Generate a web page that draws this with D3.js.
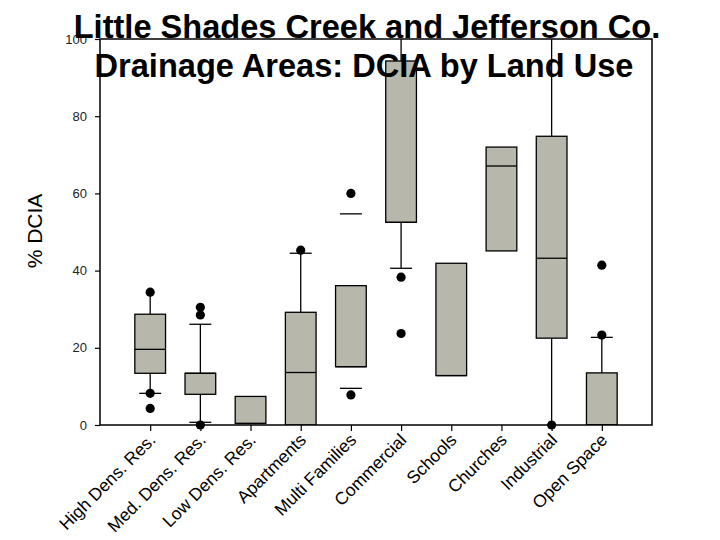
<!DOCTYPE html>
<html>
<head>
<meta charset="utf-8">
<script src="https://cdn.jsdelivr.net/npm/d3@7"></script>
<style>
  body { margin: 0; background: #fff; }
  svg { display: block; font-family: "Liberation Sans", Arial, sans-serif; }
</style>
</head>
<body>
<script>
// box plot values (% DCIA)
var categories = ["High Dens. Res.", "Med. Dens. Res.", "Low Dens. Res.", "Apartments",
    "Multi Families", "Commercial", "Schools", "Churches", "Industrial", "Open Space"];
var q1     = [13.4, 7.95, 0.4, 0, 15.1, 52.5, 12.8, 45.1, 22.5, 0];
var median = [19.6, 13.4, 0.4, 13.6, 15.1, 52.5, 12.8, 67.1, 43.2, 0];
var q3     = [28.7, 13.4, 7.4, 29.2, 36.1, 94.3, 41.9, 72.0, 74.8, 13.5];
// whisker stems (null = no stem drawn) and caps (null = no cap)
var lowWhisker  = [8.2, 0.7, null, null, null, 40.6, null, null, 0, null];
var highWhisker = [34.4, 26.1, null, 44.5, null, 100, null, null, 100, 22.7];
var lowCap      = [8.2, 0.7, null, null, 9.5, 40.6, null, null, null, null];
var highCap     = [null, 26.1, null, 44.5, 54.7, null, null, null, null, 22.7];
var outliers = [
    [34.4, 8.2, 4.3],
    [30.5, 28.5, 0],
    [],
    [45.3],
    [60.0, 7.8],
    [38.3, 23.7],
    [],
    [],
    [0],
    [41.4, 23.3]
];
var yTicks = [0, 20, 40, 60, 80, 100];

var width = 720, height = 540;
var plotL = 100, plotR = 652, plotT = 39, plotB = 425;
var boxW = 30.7, capW = 22;
var boxFill = "#b7b7ab";

var svg = d3.select("body").append("svg").attr("width", width).attr("height", height);

var x = d3.scalePoint().domain(categories).range([plotL, plotR]).padding(1);
var y = d3.scaleLinear().domain([0, 100]).range([plotB, plotT]);

svg.append("clipPath").attr("id", "plot")
    .append("rect").attr("x", plotL).attr("y", plotT)
    .attr("width", plotR - plotL).attr("height", plotB - plotT);

var g = svg.append("g").attr("clip-path", "url(#plot)");

categories.forEach(function (c, i) {
    var cx = x(c);

    // stems
    if (lowWhisker[i] !== null) {
        g.append("line").attr("x1", cx).attr("x2", cx)
            .attr("y1", y(q1[i])).attr("y2", y(lowWhisker[i]))
            .attr("stroke", "#000").attr("stroke-width", 1.3);
    }
    if (highWhisker[i] !== null) {
        g.append("line").attr("x1", cx).attr("x2", cx)
            .attr("y1", y(q3[i])).attr("y2", y(highWhisker[i]))
            .attr("stroke", "#000").attr("stroke-width", 1.3);
    }
    // caps
    [lowCap[i], highCap[i]].forEach(function (v) {
        if (v === null) return;
        g.append("line").attr("x1", cx - capW / 2).attr("x2", cx + capW / 2)
            .attr("y1", y(v)).attr("y2", y(v))
            .attr("stroke", "#000").attr("stroke-width", 1.3);
    });

    // box
    g.append("rect")
        .attr("x", cx - boxW / 2).attr("width", boxW)
        .attr("y", y(q3[i])).attr("height", y(q1[i]) - y(q3[i]))
        .attr("fill", boxFill).attr("stroke", "#000").attr("stroke-width", 1.3);

    g.append("line").attr("x1", cx - boxW / 2).attr("x2", cx + boxW / 2)
        .attr("y1", y(median[i])).attr("y2", y(median[i]))
        .attr("stroke", "#000").attr("stroke-width", 1.3);
});

// outlier dots
categories.forEach(function (c, i) {
    svg.selectAll(null).data(outliers[i]).enter().append("circle")
        .attr("cx", x(c)).attr("cy", function (d) { return y(d); })
        .attr("r", 4.6).attr("fill", "#000");
});

// frame
svg.append("rect").attr("x", plotL).attr("y", plotT)
    .attr("width", plotR - plotL).attr("height", plotB - plotT)
    .attr("fill", "none").attr("stroke", "#000").attr("stroke-width", 1.5);

// y axis
var yAxis = svg.append("g").attr("transform", "translate(" + plotL + ",0)")
    .call(d3.axisLeft(y).tickValues(yTicks).tickSize(5).tickPadding(8));
yAxis.select(".domain").remove();
yAxis.selectAll("line").attr("stroke", "#000").attr("stroke-width", 1.2);
yAxis.selectAll("text").attr("font-size", 13).attr("fill", "#222")
    .attr("font-family", "'Liberation Sans', Arial, sans-serif");

// x axis
var xAxis = svg.append("g").attr("transform", "translate(0," + plotB + ")")
    .call(d3.axisBottom(x).tickSize(6).tickPadding(4));
xAxis.select(".domain").remove();
xAxis.selectAll("line").attr("stroke", "#000").attr("stroke-width", 1.2);
xAxis.selectAll("text")
    .attr("font-size", 17.5).attr("fill", "#000")
    .attr("font-family", "'Liberation Sans', Arial, sans-serif")
    .attr("text-anchor", "end")
    .attr("dy", null).attr("y", 0)
    .attr("transform", "translate(6,16) rotate(-45)");

// y label
svg.append("text")
    .attr("transform", "translate(42,231) rotate(-90)")
    .attr("text-anchor", "middle")
    .attr("font-size", 21)
    .text("% DCIA");

// title
var title = svg.append("text").attr("font-size", 32.6).attr("font-weight", "bold")
    .attr("text-anchor", "middle");
title.append("tspan").attr("x", 367).attr("y", 38).text("Little Shades Creek and Jefferson Co.");
title.append("tspan").attr("x", 364).attr("y", 77).text("Drainage Areas: DCIA by Land Use");
</script>
</body>
</html>
